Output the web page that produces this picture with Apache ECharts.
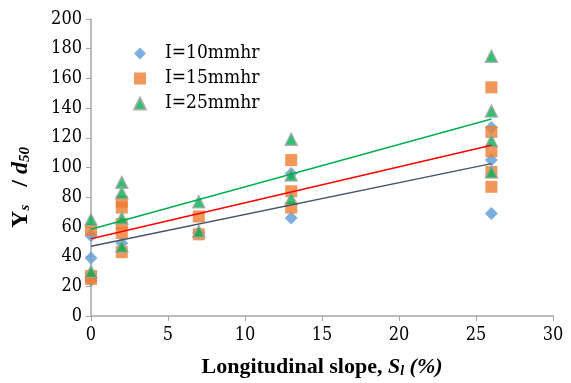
<!DOCTYPE html>
<html>
<head>
<meta charset="utf-8">
<script src="https://cdn.jsdelivr.net/npm/echarts@6/dist/echarts.min.js"></script>
<style>
  html, body { margin: 0; padding: 0; background: #fff; }
  #chart { width: 571px; height: 383px; }
</style>
</head>
<body>
<div id="chart"></div>
<script>
// series: [slope %, Ys/d50]
const seriesNames = ["I=10mmhr", "I=15mmhr", "I=25mmhr"];
const i10 = [[0, 24], [0, 39], [0, 54], [2, 49], [7, 56], [13, 96], [13, 66], [26, 127], [26, 105], [26, 69]];
const i15 = [[0, 58], [0, 27], [0, 25], [2, 77], [2, 73], [2, 62], [2, 56], [2, 43], [7, 67], [7, 55],
  [13, 105], [13, 84], [13, 73], [26, 154], [26, 124], [26, 111], [26, 97], [26, 87]];
const i25 = [[0, 65], [0, 30], [2, 90], [2, 83], [2, 66], [2, 47], [7, 77], [7, 57],
  [13, 119], [13, 95], [13, 79], [26, 175], [26, 138], [26, 118], [26, 97]];
// linear trend lines, end points
const trend10 = [[0, 47], [26, 102.6]];
const trend15 = [[0, 52], [26, 115]];
const trend25 = [[0, 58.4], [26, 132.6]];

const serif = "Liberation Serif";
// regular Liberation Serif falls back to sans here, so plain text uses DejaVu Serif
const plainSerif = "'DejaVu Serif Condensed', 'DejaVu Serif'";
const chart = echarts.init(document.getElementById("chart"));

chart.setOption({
  animation: false,
  textStyle: { fontFamily: serif },
  grid: { left: 91, right: 18, top: 19, bottom: 66 },
  legend: {
    orient: "vertical",
    left: 128,
    top: 39,
    itemGap: 6,
    itemWidth: 12,
    itemHeight: 12,
    data: seriesNames,
    textStyle: { fontFamily: plainSerif, fontSize: 19, color: "#000", padding: [0, 0, 0, 14] }
  },
  xAxis: {
    type: "value",
    min: 0, max: 30, interval: 5,
    name: "{b|Longitudinal slope, }{bi|S}{sub|l}{bi| (%)}",
    nameLocation: "middle",
    nameGap: 40,
    nameTextStyle: {
      rich: {
        b: { fontFamily: serif, fontSize: 22, fontWeight: "bold", color: "#000" },
        bi: { fontFamily: serif, fontSize: 22, fontWeight: "bold", fontStyle: "italic", color: "#000" },
        sub: { fontFamily: serif, fontSize: 14, fontWeight: "bold", fontStyle: "italic", color: "#000", verticalAlign: "bottom", padding: [8, 0, 0, 0] }
      }
    },
    axisLine: { show: true, lineStyle: { color: "#A6A6A6", width: 1.5 } },
    axisTick: { show: true, length: 5, lineStyle: { color: "#A6A6A6" } },
    axisLabel: { fontFamily: plainSerif, fontSize: 18, color: "#000", margin: 10 },
    splitLine: { show: false }
  },
  yAxis: {
    type: "value",
    min: 0, max: 200, interval: 20,
    name: "{b|Y}{sub|s}{b|   / }{bi|d}{sub|50}",
    nameLocation: "middle",
    nameGap: 58,
    nameRotate: 90,
    nameTextStyle: {
      padding: [0, 40, 0, 0],
      rich: {
        b: { fontFamily: serif, fontSize: 24, fontWeight: "bold", color: "#000" },
        bi: { fontFamily: serif, fontSize: 24, fontWeight: "bold", fontStyle: "italic", color: "#000" },
        sub: { fontFamily: serif, fontSize: 15, fontWeight: "bold", fontStyle: "italic", color: "#000", verticalAlign: "bottom", padding: [9, 0, 0, 0] }
      }
    },
    axisLine: { show: true, lineStyle: { color: "#A6A6A6", width: 1.5 } },
    axisTick: { show: true, length: 5, lineStyle: { color: "#A6A6A6" } },
    axisLabel: { fontFamily: plainSerif, fontSize: 18, color: "#000", margin: 9 },
    splitLine: { show: false }
  },
  series: [
    {
      name: seriesNames[0], type: "scatter", data: i10,
      symbol: "diamond", symbolSize: 13, z: 3,
      itemStyle: { color: "#5B9BD5" }
    },
    {
      name: seriesNames[1], type: "scatter", data: i15,
      symbol: "rect", symbolSize: 12, z: 4,
      itemStyle: { color: "#ED7D31" }
    },
    {
      name: seriesNames[2], type: "scatter", data: i25,
      symbol: "triangle", symbolSize: 12, z: 5,
      itemStyle: { color: "#00B050", borderColor: "#A5A5A5", borderWidth: 1.5 }
    },
    {
      type: "line", data: trend10, symbol: "none", z: 6,
      lineStyle: { color: "#44546A", width: 1.5 }
    },
    {
      type: "line", data: trend15, symbol: "none", z: 6,
      lineStyle: { color: "#FF0000", width: 1.5 }
    },
    {
      type: "line", data: trend25, symbol: "none", z: 6,
      lineStyle: { color: "#00B050", width: 1.5 }
    }
  ]
});
</script>
</body>
</html>
